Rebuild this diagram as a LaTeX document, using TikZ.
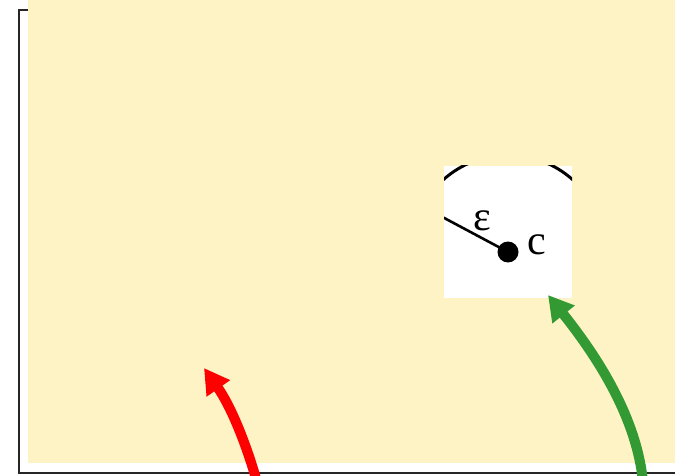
\documentclass[tikz,border=0pt]{standalone}
\usepackage{fontspec}
\setmainfont{Liberation Serif}
\usetikzlibrary{arrows.meta}
\definecolor{paper}{RGB}{253,243,197}
\definecolor{arrowgreen}{RGB}{51,153,51}

\begin{document}
\begin{tikzpicture}[x=1pt, y=-1pt, line width=2.8pt]
			\tikzstyle{pointer} = [line width=10pt, -{Triangle[length=25pt, width=27pt]}]
			\tikzstyle{label} = [inner sep=0pt, font=\fontsize{42}{42}\selectfont]
			\useasboundingbox (0,0) rectangle (675,476);
			\clip (0,0) rectangle (675,476);
			% background and frame
			\fill[paper] (28,0) rectangle (675,463);
			\draw[black!85] (28,10) -- (19,10) -- (19,473) -- (675,473);
			% inset
			\fill[white] (444,166) rectangle (572,298);
			\begin{scope}
			\clip (444,166) rectangle (572,298);
			\node[circle, fill, inner sep=0pt, minimum size=21pt] (c) at (508,252) {};
			\draw[line width=3pt] (c.center) circle[radius=97];
			\draw[line width=2.6pt] (c.center) -- +(-90,-48);
			\end{scope}
			\node[label] (eps) at (482,221) {ε};
			\node[label] (clabel) at (537,245) {c};
			% arrows
			\coordinate (redtail) at (257,482);
			\coordinate (redhead) at (204,368);
			\coordinate (greentail) at (643,482);
			\coordinate (greenhead) at (548,295);
			\draw[pointer, red] (redtail) .. controls (245,440) and (230,405) .. (redhead);
			\draw[pointer, arrowgreen] (greentail) .. controls (637,420) and (600,360) .. (greenhead);
			\end{tikzpicture}
\end{document}
